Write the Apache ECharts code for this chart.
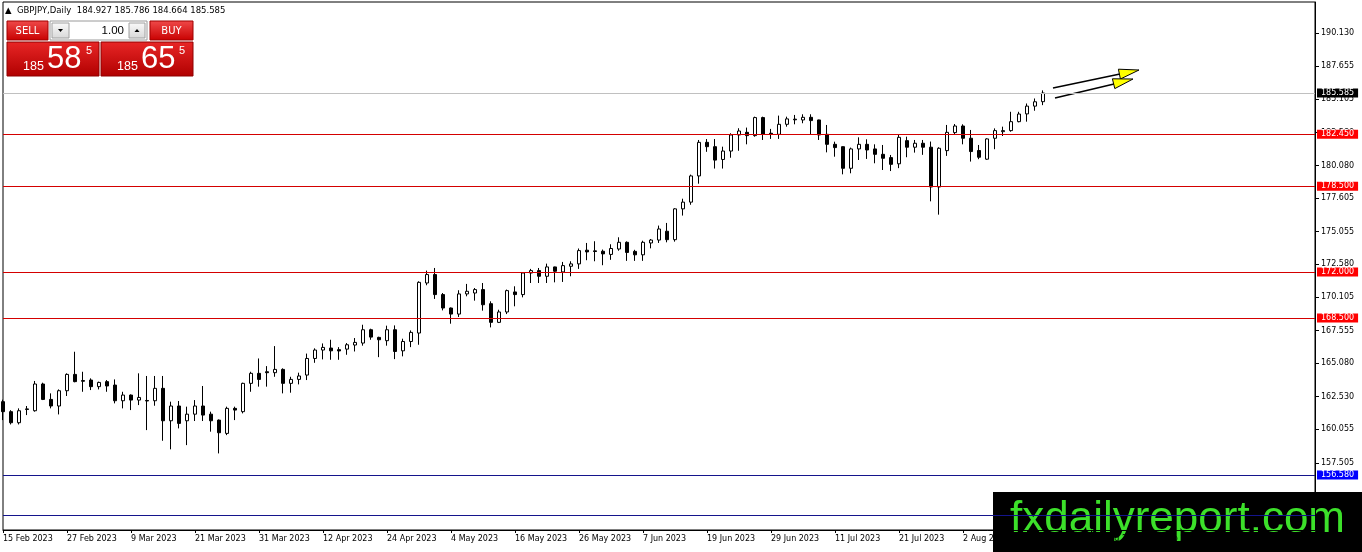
<!DOCTYPE html>
<html><head><meta charset="utf-8">
<script src="https://cdn.jsdelivr.net/npm/echarts@6/dist/echarts.min.js"></script>
<style>html,body{margin:0;padding:0;background:#fff}#c{width:1362px;height:552px}</style>
</head><body><div id="c"></div>
<script>
const symbolName = 'GBPJPY';
const timeframe = 'Daily';
const firstDate = '2023-02-15';
const totalSlots = 165; // includes empty chart-shift space on the right

const opens = [162.15,161.39,160.55,161.60,161.46,163.49,162.32,161.82,162.98,164.22,
163.75,163.79,163.29,163.67,163.41,162.22,162.65,162.27,162.24,162.22,
163.16,160.70,161.82,160.70,161.20,161.82,161.20,160.75,159.74,161.64,
161.39,163.54,164.30,164.42,164.35,164.60,163.54,163.84,164.17,165.43,
166.07,166.22,166.10,166.14,166.45,166.60,167.61,167.03,166.78,167.61,
166.01,166.72,167.36,171.16,171.80,170.28,169.26,168.80,170.33,170.40,
170.66,169.59,168.17,168.96,170.48,170.28,171.92,172.10,171.67,172.38,
172.00,172.43,172.61,173.65,173.60,173.57,173.33,173.74,174.25,173.56,
173.30,174.20,174.42,175.09,174.45,176.79,177.30,179.29,181.84,181.51,
180.54,181.18,182.40,182.60,182.35,183.72,182.53,182.45,183.21,183.60,
183.54,183.74,183.54,182.45,181.69,181.51,179.87,181.34,181.69,181.34,
180.93,180.68,180.21,181.97,181.47,181.77,181.47,178.45,181.21,182.58,
183.08,182.15,181.22,180.56,182.15,182.65,182.73,183.41,184.00,184.59,
184.927];
const highs = [162.30,161.50,161.64,161.82,163.72,163.59,162.78,163.08,164.30,165.94,
164.42,163.92,163.67,163.79,163.84,162.90,162.70,164.30,164.10,164.10,
164.10,162.15,162.20,161.77,162.27,163.34,161.39,160.80,161.77,161.77,
163.59,164.42,165.43,164.85,166.37,164.68,164.04,164.35,165.80,166.20,
166.57,166.85,166.29,166.60,166.98,167.99,167.69,167.08,167.92,167.94,
166.93,167.56,171.29,172.10,172.30,170.40,169.30,170.61,171.09,170.78,
171.16,169.77,169.13,170.66,170.91,171.97,172.23,172.30,172.63,172.40,
172.76,172.81,173.78,174.20,174.33,173.70,174.10,174.63,174.32,173.68,
174.37,174.50,175.52,175.72,176.84,177.56,179.39,182.02,182.09,182.09,
181.51,182.53,182.91,182.96,183.79,183.79,182.86,183.87,183.79,183.92,
183.97,183.97,183.56,183.16,181.89,181.53,181.44,182.22,182.07,181.69,
181.64,180.88,182.40,182.27,182.02,182.02,181.90,181.47,183.16,183.23,
183.21,182.78,181.64,182.15,182.90,183.03,184.16,184.16,184.79,185.17,
185.786];
const lows = [160.75,160.42,160.42,161.13,161.39,162.27,161.64,161.18,162.58,163.62,
162.90,163.03,163.08,162.90,162.02,161.64,161.51,161.89,159.99,161.84,
159.18,158.53,160.12,158.85,160.68,160.68,159.87,158.22,159.61,160.75,
161.26,162.90,163.29,163.29,164.04,162.78,162.83,163.46,163.79,165.10,
165.36,165.33,165.33,165.71,165.96,166.40,166.85,165.53,166.40,165.38,
165.59,166.29,166.47,170.99,169.95,169.08,168.07,168.58,170.15,169.82,
169.06,167.79,168.12,168.80,169.39,170.07,171.16,171.16,171.16,171.21,
171.24,171.67,172.23,172.89,172.81,172.51,172.92,173.61,172.84,172.84,
172.84,173.79,174.20,174.25,174.30,176.28,177.10,178.70,181.12,179.85,
179.85,180.67,181.20,181.69,182.27,182.02,182.10,182.10,183.03,183.21,
183.29,182.40,182.02,181.08,180.75,179.41,179.49,180.50,180.58,180.25,
179.74,179.66,179.88,180.71,181.06,180.89,177.36,176.35,180.81,182.47,
181.69,180.38,180.56,180.51,181.32,182.32,182.65,183.36,183.41,184.24,
184.664];
const closes = [161.39,160.55,161.46,161.56,163.49,162.32,161.82,162.98,164.22,163.67,
163.70,163.29,163.61,163.34,162.22,162.65,162.27,162.47,162.20,163.16,
160.70,161.82,160.50,161.20,161.82,161.13,160.70,159.79,161.64,161.51,
163.54,164.30,163.84,164.35,164.60,163.54,163.84,164.10,165.43,166.07,
166.27,166.01,166.00,166.47,166.65,167.61,167.05,166.85,167.61,165.96,
166.72,167.41,171.21,171.80,170.28,169.26,168.80,170.33,170.53,170.66,
169.51,168.17,168.96,170.58,170.28,171.92,172.10,171.67,172.38,172.05,
172.48,172.61,173.62,173.52,173.55,173.37,173.78,174.25,173.48,173.30,
174.25,174.42,175.26,174.45,176.79,177.30,179.29,181.84,181.51,180.49,
181.18,182.40,182.70,182.35,183.72,182.45,182.45,183.21,183.62,183.55,
183.74,183.49,182.40,181.69,181.44,179.87,181.34,181.69,181.26,180.93,
180.63,180.17,182.22,181.47,181.77,181.47,178.45,181.39,182.60,183.08,
182.15,181.14,180.71,182.10,182.73,182.73,183.41,183.99,184.59,184.92,
185.585];

const bidPrice = 185.585;
const askPrice = 185.655;
const lotSize = '1.00';

const yTickValues = [190.130,187.655,185.105,182.580,180.080,177.605,175.055,172.580,170.105,167.555,165.080,162.530,160.055,157.505];
const levelValues = [185.585,182.450,178.500,172.000,168.500,156.580,153.550];
const levelLineColors = ['#c0c0c0','#d40000','#d40000','#d40000','#d40000','#14148c','#14148c'];
const levelBoxColors = ['#000000','#ff0000','#ff0000','#ff0000','#ff0000','#0000ff',null];
const yMin = 152.405, yMax = 192.496;

const monthNames = ['Jan','Feb','Mar','Apr','May','Jun','Jul','Aug','Sep','Oct','Nov','Dec'];
const categories = [];
(function(){
  const d = new Date(firstDate + 'T00:00:00Z');
  while (categories.length < totalSlots) {
    const wd = d.getUTCDay();
    if (wd !== 0 && wd !== 6) categories.push(d.getUTCDate() + ' ' + monthNames[d.getUTCMonth()] + ' ' + d.getUTCFullYear());
    d.setUTCDate(d.getUTCDate() + 1);
  }
})();

const candleData = opens.map((o, i) => [o, closes[i], lows[i], highs[i]]);
const last = opens.length - 1;
const header = '\u25B2  ' + symbolName + ',' + timeframe + '  ' + opens[last].toFixed(3) + ' ' + highs[last].toFixed(3) + ' ' + lows[last].toFixed(3) + ' ' + closes[last].toFixed(3);

function splitPrice(p) {
  const s = p.toFixed(3);
  return { big: s.slice(0, 3), mid: s.slice(4, 6), small: s.slice(6, 7) };
}
const bidParts = splitPrice(bidPrice), askParts = splitPrice(askPrice);

const AX_FONT = 'DejaVu Sans';
const chart = echarts.init(document.getElementById('c'));

function grad(c1, c2) {
  return { type: 'linear', x: 0, y: 0, x2: 0, y2: 1, colorStops: [{ offset: 0, color: c1 }, { offset: 1, color: c2 }] };
}
const btnRed = grad('#f04a4a', '#c80000');
const boxRed = grad('#e82626', '#b00000');
const btnGray = grad('#fafafa', '#d8d8d8');

const panel = [
  { type: 'rect', shape: { x: 7, y: 21, width: 41, height: 19 }, style: { fill: btnRed, stroke: '#a00000', lineWidth: 1 } },
  { type: 'text', x: 27.5, y: 31, style: { text: 'SELL', fill: '#fff', font: '10px "DejaVu Sans"', align: 'center', verticalAlign: 'middle' } },
  { type: 'rect', shape: { x: 50, y: 21, width: 97, height: 19 }, style: { fill: '#fff', stroke: '#9a9a9a', lineWidth: 1 } },
  { type: 'rect', shape: { x: 52, y: 23, width: 17, height: 15 }, style: { fill: btnGray, stroke: '#a0a0a0', lineWidth: 1 } },
  { type: 'polygon', shape: { points: [[58, 29], [63, 29], [60.5, 32]] }, style: { fill: '#000' } },
  { type: 'rect', shape: { x: 129, y: 23, width: 16, height: 15 }, style: { fill: btnGray, stroke: '#a0a0a0', lineWidth: 1 } },
  { type: 'polygon', shape: { points: [[134.5, 32], [139.5, 32], [137, 29]] }, style: { fill: '#000' } },
  { type: 'text', x: 124, y: 31, style: { text: lotSize, fill: '#000', font: '11.5px "Liberation Sans"', align: 'right', verticalAlign: 'middle' } },
  { type: 'rect', shape: { x: 150, y: 21, width: 43, height: 19 }, style: { fill: btnRed, stroke: '#a00000', lineWidth: 1 } },
  { type: 'text', x: 171.5, y: 31, style: { text: 'BUY', fill: '#fff', font: '10px "DejaVu Sans"', align: 'center', verticalAlign: 'middle' } },
  { type: 'rect', shape: { x: 7, y: 42, width: 92, height: 34 }, style: { fill: boxRed, stroke: '#900000', lineWidth: 1 } },
  { type: 'rect', shape: { x: 101, y: 42, width: 92, height: 34 }, style: { fill: boxRed, stroke: '#900000', lineWidth: 1 } },
  { type: 'text', x: 23, y: 66.5, style: { text: bidParts.big, fill: '#fff', font: '12.5px "Liberation Sans"', align: 'left', verticalAlign: 'middle' } },
  { type: 'text', x: 47, y: 59.5, style: { text: bidParts.mid, fill: '#fff', font: '31px "Liberation Sans"', align: 'left', verticalAlign: 'middle' } },
  { type: 'text', x: 86, y: 51, style: { text: bidParts.small, fill: '#fff', font: '11px "Liberation Sans"', align: 'left', verticalAlign: 'middle' } },
  { type: 'text', x: 117, y: 66.5, style: { text: askParts.big, fill: '#fff', font: '12.5px "Liberation Sans"', align: 'left', verticalAlign: 'middle' } },
  { type: 'text', x: 141, y: 59.5, style: { text: askParts.mid, fill: '#fff', font: '31px "Liberation Sans"', align: 'left', verticalAlign: 'middle' } },
  { type: 'text', x: 179, y: 51, style: { text: askParts.small, fill: '#fff', font: '11px "Liberation Sans"', align: 'left', verticalAlign: 'middle' } }
];

const arrows = [
  { type: 'line', shape: { x1: 1053, y1: 88, x2: 1120, y2: 74 }, style: { stroke: '#000', lineWidth: 1.6 } },
  { type: 'polygon', shape: { points: [[1139, 70], [1120.4, 79], [1118.4, 69.2]] }, style: { fill: '#ffff00', stroke: '#000', lineWidth: 1 } },
  { type: 'line', shape: { x1: 1055, y1: 98, x2: 1114, y2: 84 }, style: { stroke: '#000', lineWidth: 1.6 } },
  { type: 'polygon', shape: { points: [[1133, 79], [1114.8, 88.6], [1112.4, 78.8]] }, style: { fill: '#ffff00', stroke: '#000', lineWidth: 1 } }
];

const watermark = [
  { type: 'rect', shape: { x: 993, y: 492, width: 369, height: 60 }, style: { fill: '#000' } },
  { type: 'text', x: 1010, y: 520, style: { text: 'fxdailyreport.com', fill: '#3ce02a', font: '44px "Liberation Sans"', align: 'left', verticalAlign: 'middle' } }
];

const markData = levelValues.map((v, i) => ({
  yAxis: v,
  lineStyle: { color: levelLineColors[i], width: 1, type: 'solid' },
  label: levelBoxColors[i] ? {
    show: true, position: 'end', distance: 2,
    formatter: () => v.toFixed(3),
    color: '#fff', backgroundColor: levelBoxColors[i],
    padding: [1, 4, 0, 4], fontSize: 8, fontFamily: AX_FONT
  } : { show: false }
}));

chart.setOption({
  animation: false,
  backgroundColor: '#fff',
  title: {
    text: header, left: 5, top: 6, padding: 0,
    textStyle: { fontSize: 8.5, fontFamily: AX_FONT, fontWeight: 'normal', color: '#000' }
  },
  grid: { left: 3, right: 47, top: 2, bottom: 22, show: true, borderColor: '#000', borderWidth: 1, backgroundColor: '#fff' },
  xAxis: {
    type: 'category', data: categories, boundaryGap: false,
    axisLine: { show: true, lineStyle: { color: '#000', width: 1 } },
    axisTick: { show: true, interval: 7, length: 3, lineStyle: { color: '#000' } },
    axisLabel: { interval: 7, align: 'left', margin: 5, fontSize: 8, fontFamily: AX_FONT, color: '#000' },
    splitLine: { show: false }
  },
  yAxis: {
    type: 'value', position: 'right', min: yMin, max: yMax,
    axisLine: { show: true, lineStyle: { color: '#000', width: 1 } },
    axisTick: { show: true, length: 4, customValues: yTickValues, lineStyle: { color: '#000' } },
    axisLabel: { customValues: yTickValues, formatter: v => v.toFixed(3), margin: 6, fontSize: 8, fontFamily: AX_FONT, color: '#000' },
    splitLine: { show: false }
  },
  series: [{
    type: 'candlestick', data: candleData, barWidth: 4, clip: true,
    itemStyle: { color: '#fff', color0: '#000', borderColor: '#000', borderColor0: '#000', borderColorDoji: '#000', borderWidth: 1 },
    markLine: { symbol: ['none', 'none'], silent: true, animation: false, data: markData }
  }],
  graphic: { elements: [
    { type: 'group', z: 50, children: panel },
    { type: 'group', z: 50, children: arrows },
    { type: 'group', z: 100, children: watermark }
  ] }
});
</script></body></html>
